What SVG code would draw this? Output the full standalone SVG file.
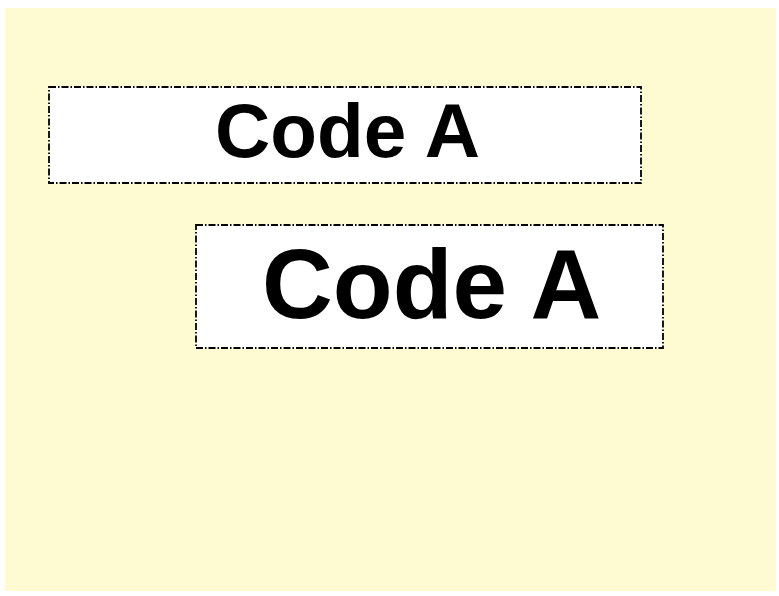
<svg xmlns="http://www.w3.org/2000/svg" width="779" height="596" viewBox="0 0 779 596">
<style>
.box{fill:#ffffff;stroke:#000000;stroke-width:1.8;stroke-dasharray:7 2 1.5 2}
.lbl{font-family:"Liberation Sans",Arial,sans-serif;font-weight:bold;fill:#000000}
</style>
<rect x="0" y="0" width="779" height="596" fill="#ffffff"/>
<rect x="5" y="8" width="771" height="583" fill="#fefbd2"/>
<g id="node1">
<rect class="box" x="49" y="87" width="592" height="96"/>
<text class="lbl" x="215" y="157" font-size="76.5">Code A</text>
</g>
<g id="node2">
<rect class="box" x="196" y="225" width="467" height="123"/>
<text class="lbl" x="262" y="318" font-size="98">Code A</text>
</g>
<g id="connectors"></g>
</svg>
